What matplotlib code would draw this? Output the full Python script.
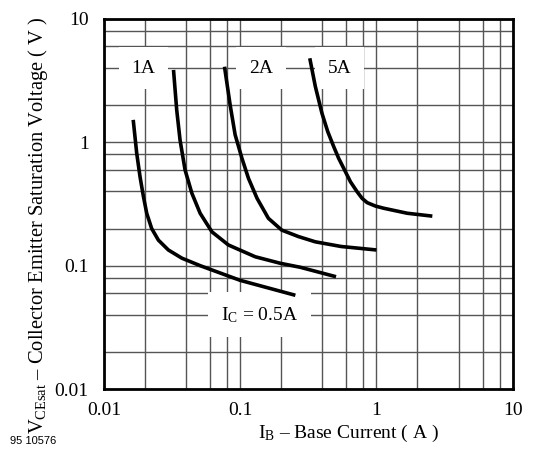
import matplotlib
matplotlib.use("Agg")
import matplotlib.pyplot as plt
from matplotlib.ticker import LogLocator, FixedLocator, NullFormatter

plt.rcParams['font.family'] = ['Liberation Serif', 'DejaVu Serif']
plt.rcParams['mathtext.fontset'] = 'custom'
plt.rcParams['mathtext.rm'] = 'Liberation Serif'
plt.rcParams['mathtext.it'] = 'Liberation Serif:italic'

# base current (A) and saturation voltage (V)
ib_05 = [0.0164, 0.0174, 0.0184, 0.0195, 0.0206, 0.0224, 0.0251, 0.0297, 0.0373,
         0.0508, 0.1, 0.254]
vce_05 = [1.52, 0.815, 0.526, 0.362, 0.266, 0.2, 0.161, 0.134, 0.115,
          0.1, 0.076, 0.0575]

ib_1 = [0.0324, 0.0342, 0.0362, 0.0394, 0.0442, 0.0508, 0.062, 0.082, 0.129,
        0.197, 0.276, 0.505]
vce_1 = [3.86, 1.83, 1.04, 0.596, 0.386, 0.266, 0.188, 0.147, 0.118,
         0.1045, 0.097, 0.0813]

ib_2 = [0.0767, 0.0844, 0.0918, 0.103, 0.115, 0.133, 0.161, 0.202, 0.268,
        0.356, 0.55, 1.0]
vce_2 = [4.1, 2.0, 1.15, 0.741, 0.51, 0.351, 0.242, 0.194, 0.172,
         0.156, 0.143, 0.134]

ib_5 = [0.324, 0.356, 0.398, 0.439, 0.486, 0.528, 0.575, 0.644, 0.72,
        0.785, 0.855, 0.984, 1.13, 1.68, 2.57]
vce_5 = [4.8, 2.83, 1.72, 1.22, 0.92, 0.741, 0.615, 0.479, 0.398,
         0.351, 0.324, 0.304, 0.292, 0.266, 0.252]

curve_labels = ['1A', '2A', '5A', r'I$_\mathrm{C}$ = 0.5A']
label_x = [0.0195, 0.142, 0.535, 0.138]
label_y = [4.0, 4.0, 4.0, 0.04]

x_ticks = [0.01, 0.1, 1, 10]
x_ticklabels = ['0.01', '0.1', '1', '10']
y_ticks = [0.01, 0.1, 1, 10]
y_ticklabels = ['0.01', '0.1', '1', '10']

fig = plt.figure(figsize=(5.33, 4.62), dpi=100)
ax = fig.add_axes([0.195, 0.158, 0.767, 0.801])

ax.set_xscale('log')
ax.set_yscale('log')
ax.set_xlim(0.01, 10)
ax.set_ylim(0.01, 10)

for axis in (ax.xaxis, ax.yaxis):
    axis.set_minor_locator(LogLocator(base=10, subs=[2, 4, 6, 8]))
    axis.set_minor_formatter(NullFormatter())
ax.xaxis.set_major_locator(FixedLocator(x_ticks))
ax.yaxis.set_major_locator(FixedLocator(y_ticks))
ax.set_xticklabels(x_ticklabels)
ax.set_yticklabels(y_ticklabels)
ax.tick_params(which='both', length=0, labelsize=14)
ax.tick_params(axis='x', pad=9)
ax.tick_params(axis='y', pad=11)

ax.grid(True, which='both', color='#555555', linewidth=1.0)
ax.set_axisbelow(True)
for sp in ax.spines.values():
    sp.set_linewidth(2.0)
    sp.set_zorder(5)

for lx, ly, lab in zip(label_x, label_y, curve_labels):
    ax.text(lx, ly, lab, fontsize=14, ha='center', va='center', zorder=3,
            bbox=dict(boxstyle='square,pad=0.65', fc='white', ec='none'))

for ib, vce in [(ib_05, vce_05), (ib_1, vce_1), (ib_2, vce_2), (ib_5, vce_5)]:
    ax.plot(ib, vce, color='black', linewidth=2.6, solid_capstyle='butt',
            solid_joinstyle='round', zorder=4)

fig.text(349 / 533, 1 - 433 / 462, r'I$_\mathrm{B}$ – Base Current ( A )', fontsize=14,
         ha='center', va='center')
fig.text(38 / 533, 1 - 225 / 462,
         r'V$_\mathrm{CEsat}$ – Collector Emitter Saturation Voltage ( V )',
         fontsize=14.8, rotation=90, ha='center', va='center')
fig.text(10 / 533, 1 - 441 / 462, '95 10576', fontsize=8, family='Liberation Sans',
         ha='left', va='center')

fig.savefig('out.png', dpi=100)
